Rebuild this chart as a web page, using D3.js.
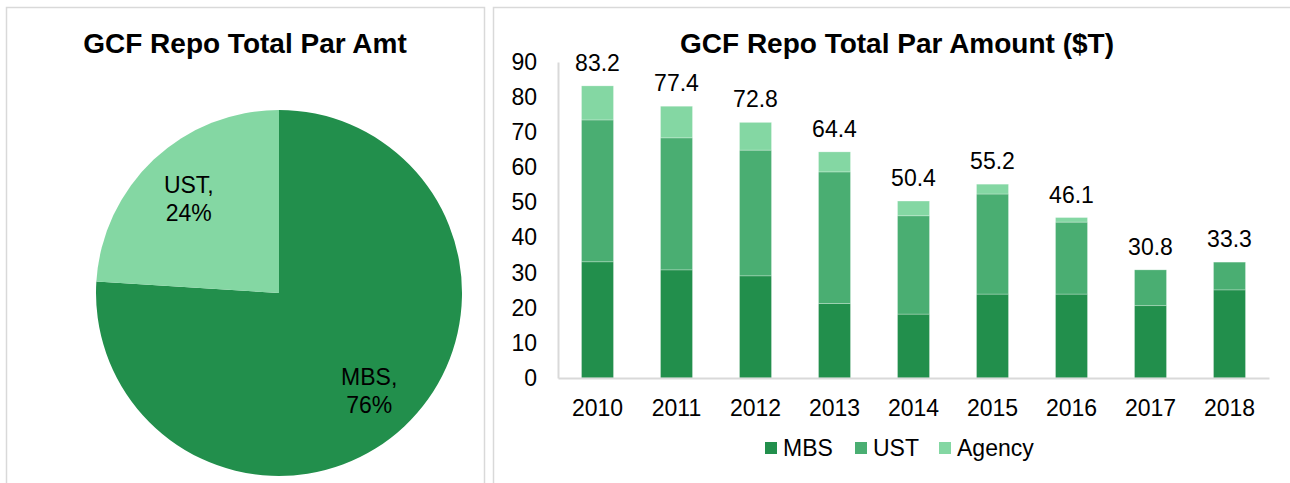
<!DOCTYPE html>
<html>
<head>
<meta charset="utf-8">
<script src="https://cdn.jsdelivr.net/npm/d3@7"></script>
<style>
  body { margin: 0; background: #fff; }
  text { font-family: "Liberation Sans", Arial, sans-serif; fill: #000; }
</style>
</head>
<body>
<div id="chart"></div>
<script>
// pie data
const pieLabels = ["MBS", "UST"];
const pieShares = [76, 24];

// bar data ($T)
const years = ["2010", "2011", "2012", "2013", "2014", "2015", "2016", "2017", "2018"];
const mbs    = [33.1, 30.8, 29.1, 21.2, 18.2, 23.9, 23.9, 20.6, 25.1];
const ust    = [40.4, 37.6, 35.8, 37.5, 28.0, 28.5, 20.5, 10.2, 7.9];
const agency = [9.7, 9.0, 7.9, 5.7, 4.2, 2.8, 1.3, 0, 0];
const totals = ["83.2", "77.4", "72.8", "64.4", "50.4", "55.2", "46.1", "30.8", "33.3"];
const yTicks = [0, 10, 20, 30, 40, 50, 60, 70, 80, 90];

const seriesNames = ["MBS", "UST", "Agency"];
const colors = ["#228f4c", "#4aae72", "#84d7a3"];

const width = 1290, height = 483;
const fs = "23px";

const svg = d3.select("#chart").append("svg")
    .attr("width", width)
    .attr("height", height);

svg.append("rect").attr("width", width).attr("height", height).attr("fill", "#fff");

// panel frames
svg.append("rect")
    .attr("x", 6.5).attr("y", 7.5).attr("width", 478).attr("height", 490)
    .attr("fill", "none").attr("stroke", "#d9d9d9").attr("stroke-width", 1.5);
svg.append("rect")
    .attr("x", 493.5).attr("y", 7.5).attr("width", 820).attr("height", 490)
    .attr("fill", "none").attr("stroke", "#d9d9d9").attr("stroke-width", 1.5);

// ---------- pie ----------
const cx = 279, cy = 293, r = 183;
const pie = d3.pie().sort(null).value(d => d.v);
const arc = d3.arc().innerRadius(0).outerRadius(r);
const labelArc = d3.arc().innerRadius(r * 0.72).outerRadius(r * 0.72);
const pieData = pie(pieLabels.map((k, i) => ({ k: k, v: pieShares[i] })));

const gPie = svg.append("g").attr("transform", `translate(${cx},${cy})`);
gPie.selectAll("path")
    .data(pieData)
    .enter().append("path")
    .attr("d", arc)
    .attr("fill", (d, i) => i == 0 ? colors[0] : colors[2]);

const pl = gPie.selectAll(".plabel")
    .data(pieData)
    .enter().append("text")
    .attr("class", "plabel")
    .attr("text-anchor", "middle")
    .style("font-size", fs);
pl.append("tspan")
    .attr("x", d => labelArc.centroid(d)[0])
    .attr("y", d => labelArc.centroid(d)[1] - 4)
    .text(d => d.data.k + ",");
pl.append("tspan")
    .attr("x", d => labelArc.centroid(d)[0])
    .attr("y", d => labelArc.centroid(d)[1] + 24)
    .text(d => d.data.v + "%");

svg.append("text")
    .attr("x", 245).attr("y", 53)
    .attr("text-anchor", "middle")
    .style("font-size", "28px").style("font-weight", "bold")
    .text("GCF Repo Total Par Amt");

// ---------- stacked bars ----------
const plotLeft = 558, plotRight = 1269, plotTop = 62, plotBottom = 378;

const table = years.map((y, i) => ({ year: y, MBS: mbs[i], UST: ust[i], Agency: agency[i] }));
const stacked = d3.stack().keys(seriesNames)(table);

const x = d3.scaleBand()
    .domain(years)
    .range([plotLeft, plotRight])
    .paddingInner(0.595)
    .paddingOuter(0.2975);

const y = d3.scaleLinear()
    .domain([0, 90])
    .range([plotBottom, plotTop]);

svg.append("g")
    .selectAll("g")
    .data(stacked)
    .enter().append("g")
    .attr("fill", (d, i) => colors[i])
    .selectAll("rect")
    .data(d => d)
    .enter().append("rect")
    .attr("x", d => x(d.data.year))
    .attr("width", x.bandwidth())
    .attr("y", d => y(d[1]))
    .attr("height", d => y(d[0]) - y(d[1]))
    .attr("stroke", "#fff")
    .attr("stroke-opacity", 0.35)
    .attr("stroke-width", 0.75);

const yAxis = d3.axisLeft(y).tickValues(yTicks).tickSize(0).tickPadding(21);
const gY = svg.append("g").attr("transform", `translate(${plotLeft},0)`).call(yAxis);
gY.select(".domain").attr("stroke", "#d9d9d9").attr("stroke-width", 2);
gY.selectAll("text").style("font-size", fs).attr("fill", "#000")
    .style("font-family", "'Liberation Sans', Arial, sans-serif");

const xAxis = d3.axisBottom(x).tickSize(0).tickPadding(22);
const gX = svg.append("g").attr("transform", `translate(0,${plotBottom})`).call(xAxis);
gX.select(".domain").attr("stroke", "#d9d9d9").attr("stroke-width", 2);
gX.selectAll("text").style("font-size", fs).attr("fill", "#000")
    .style("font-family", "'Liberation Sans', Arial, sans-serif");

// total labels
svg.append("g")
    .selectAll("text")
    .data(years)
    .enter().append("text")
    .attr("x", d => x(d) + x.bandwidth() / 2)
    .attr("y", (d, i) => y(mbs[i] + ust[i] + agency[i]) - 15)
    .attr("text-anchor", "middle")
    .style("font-size", fs)
    .text((d, i) => totals[i]);

svg.append("text")
    .attr("x", 897).attr("y", 53)
    .attr("text-anchor", "middle")
    .style("font-size", "28px").style("font-weight", "bold")
    .text("GCF Repo Total Par Amount ($T)");

// legend
const legendX = [765, 855, 939];
const lg = svg.append("g").selectAll("g")
    .data(seriesNames)
    .enter().append("g")
    .attr("transform", (d, i) => `translate(${legendX[i]},442)`);
lg.append("rect").attr("width", 12).attr("height", 12).attr("fill", (d, i) => colors[i]);
lg.append("text").attr("x", 18).attr("y", 14).style("font-size", fs).text(d => d);
</script>
</body>
</html>
